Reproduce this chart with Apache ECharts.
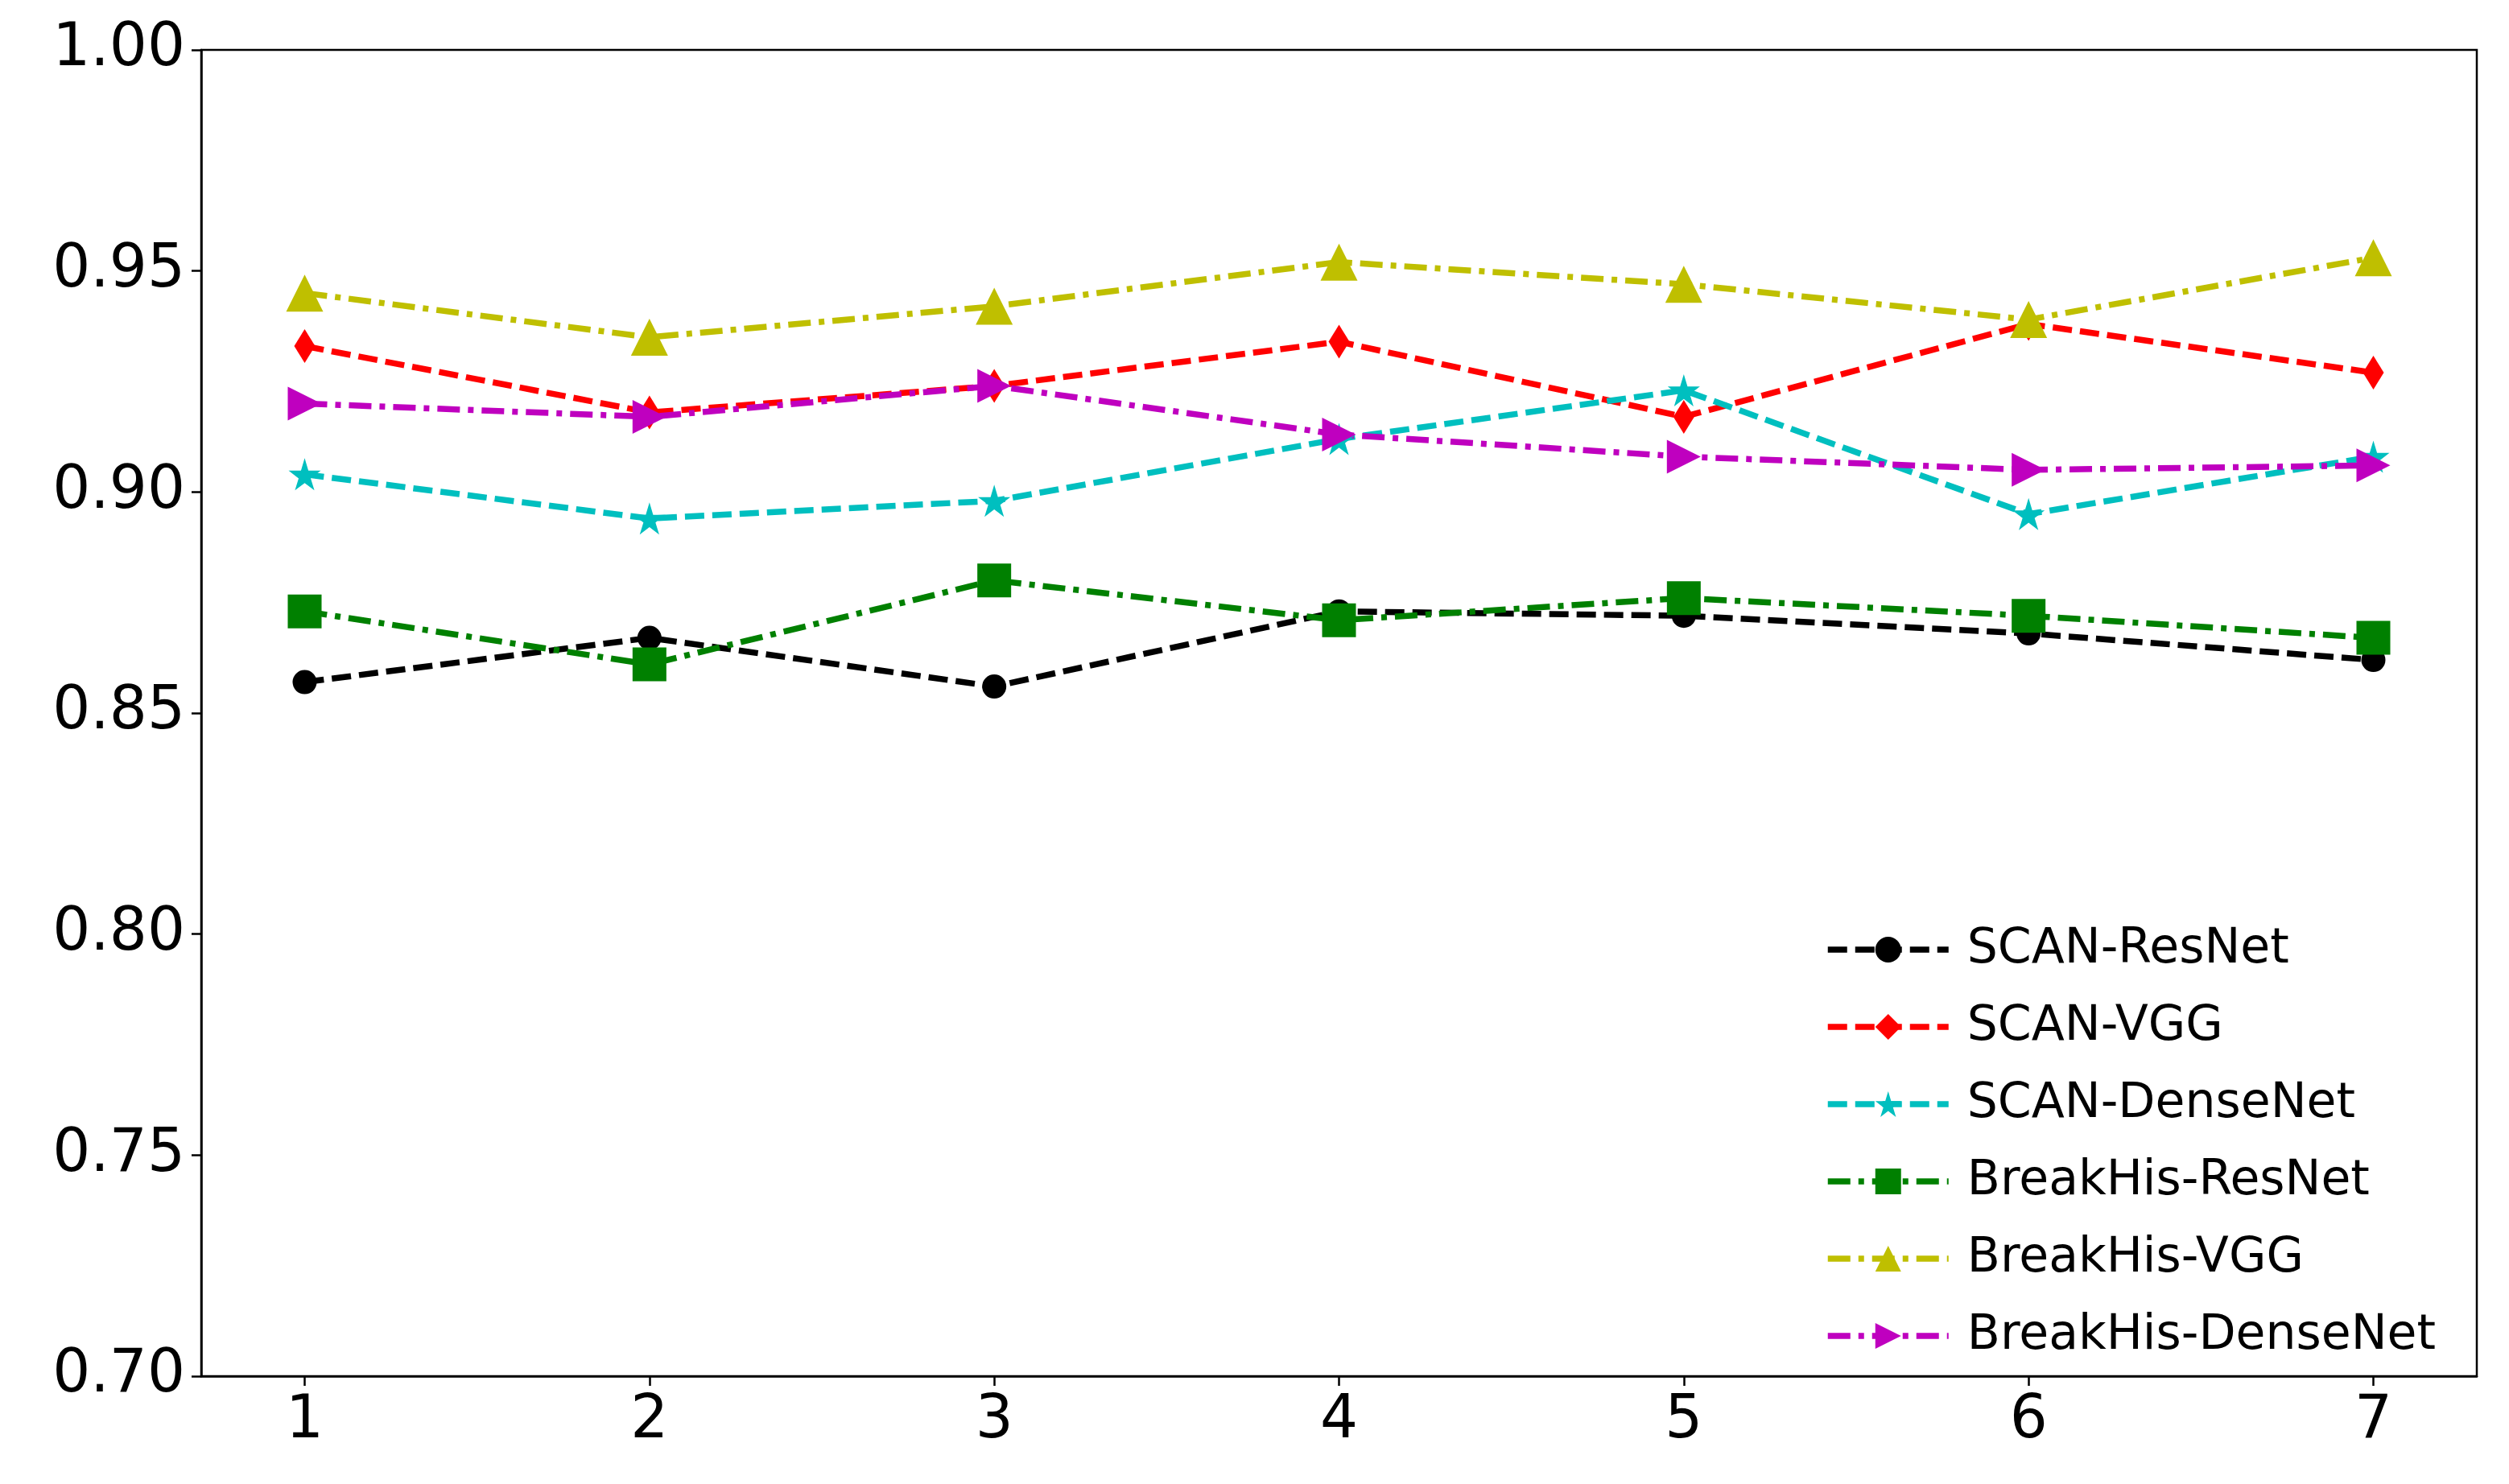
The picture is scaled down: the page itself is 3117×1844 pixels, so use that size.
<!DOCTYPE html>
<html><head><meta charset="utf-8">
<script src="https://cdn.jsdelivr.net/npm/echarts@6/dist/echarts.min.js"></script>
<style>html,body{margin:0;padding:0;background:#fff}#c{width:3117px;height:1844px}</style>
</head><body><div id="c"></div>
<script>
const xs = [1,2,3,4,5,6,7];
const scanResNet = [0.857,0.867,0.856,0.873,0.872,0.868,0.862];
const scanVGG = [0.933,0.918,0.924,0.934,0.917,0.938,0.927];
const scanDenseNet = [0.904,0.894,0.898,0.912,0.923,0.895,0.908];
const bhResNet = [0.873,0.861,0.880,0.871,0.876,0.872,0.867];
const bhVGG = [0.945,0.935,0.942,0.952,0.947,0.939,0.953];
const bhDenseNet = [0.920,0.917,0.924,0.913,0.908,0.905,0.906];
const star = 'path://M50,0 L61,35 L98,35 L68,57 L79,91 L50,70 L21,91 L32,57 L2,35 L39,35 Z';
const dashed = [24,10];
const dashdot = [28,10,7,10];
function mk(name, data, color, symbol, size, dash, rot){
  return {name, type:'line', data: xs.map((x,i)=>[x,data[i]]), symbol, symbolSize:size, symbolRotate:rot||0,
    itemStyle:{color}, lineStyle:{color, width:7.5, type:dash}, z:3};
}
const chart = echarts.init(document.getElementById('c'));
chart.setOption({
  animation:false,
  grid:{left:250,right:40,top:62,bottom:134,show:true,borderColor:'#000',borderWidth:2.5},
  xAxis:{type:'value',min:0.7,max:7.3,
    axisLine:{onZero:false,lineStyle:{color:'#000',width:2.5}},
    axisTick:{length:12,lineStyle:{width:2.5},customValues:xs},
    splitLine:{show:false},
    axisLabel:{color:'#000',fontSize:74,fontFamily:'DejaVu Sans',margin:20,customValues:xs,formatter:v=>String(v)}},
  yAxis:{type:'value',min:0.70,max:1.00,interval:0.05,
    axisLine:{show:true,lineStyle:{color:'#000',width:2.5}},axisTick:{show:true,length:12,lineStyle:{width:2.5}},
    splitLine:{show:false},
    axisLabel:{color:'#000',fontSize:74,fontFamily:'DejaVu Sans',margin:20,formatter:v=>v.toFixed(2)}},
  legend:{orient:'vertical',left:2262,top:1145,itemGap:36,itemWidth:150,itemHeight:40,
    lineStyle:{width:7.5},
    textStyle:{fontSize:60,fontFamily:'DejaVu Sans',color:'#000',padding:[0,0,0,18]},
    data:['SCAN-ResNet','SCAN-VGG','SCAN-DenseNet','BreakHis-ResNet','BreakHis-VGG','BreakHis-DenseNet']},
  series:[
    mk('SCAN-ResNet',scanResNet,'#000000','circle',30,dashed),
    mk('SCAN-VGG',scanVGG,'#ff0000','diamond',[26,42],dashed),
    mk('SCAN-DenseNet',scanDenseNet,'#00bfbf',star,40,dashed),
    mk('BreakHis-ResNet',bhResNet,'#008000','rect',42,dashdot),
    mk('BreakHis-VGG',bhVGG,'#bfbf00','triangle',46,dashdot),
    mk('BreakHis-DenseNet',bhDenseNet,'#bf00bf','triangle',42,dashdot,-90)
  ]
});
</script></body></html>
